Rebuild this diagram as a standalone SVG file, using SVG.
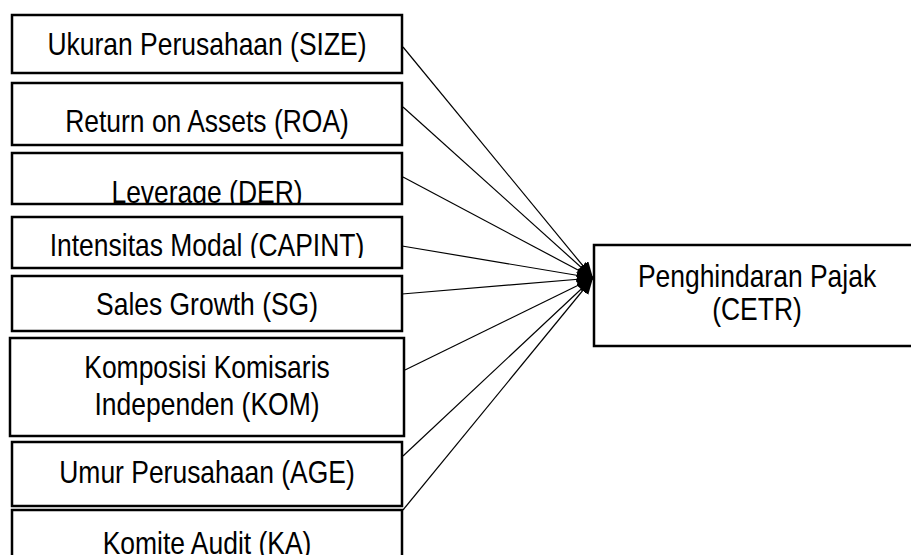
<svg xmlns="http://www.w3.org/2000/svg" width="911" height="555" viewBox="0 0 911 555">
<style>
.box{fill:#fff;stroke:#000;stroke-width:2.5}
.t{font-family:"Liberation Sans",Arial,sans-serif;font-size:31.5px;fill:#000;text-anchor:middle}
.ln{stroke:#000;stroke-width:1.2;fill:none}
</style>
<defs>
<marker id="ah" markerUnits="userSpaceOnUse" markerWidth="18" markerHeight="16" refX="16" refY="7" orient="auto">
<path d="M0,0 L16,7 L0,14 z" fill="#000"/>
</marker>
<clipPath id="c3"><rect x="0" y="150" width="420" height="53"/></clipPath>
<clipPath id="c4"><rect x="0" y="215" width="420" height="43"/></clipPath>
</defs>
<rect width="911" height="555" fill="#fff"/>
<g id="connectors">
<line class="ln" x1="403" y1="47" x2="593" y2="278" marker-end="url(#ah)"/>
<line class="ln" x1="403" y1="107" x2="593" y2="278" marker-end="url(#ah)"/>
<line class="ln" x1="403" y1="177" x2="593" y2="278" marker-end="url(#ah)"/>
<line class="ln" x1="402" y1="246" x2="593" y2="278" marker-end="url(#ah)"/>
<line class="ln" x1="402" y1="294" x2="593" y2="278" marker-end="url(#ah)"/>
<line class="ln" x1="405" y1="370" x2="593" y2="278" marker-end="url(#ah)"/>
<line class="ln" x1="403" y1="456" x2="593" y2="278" marker-end="url(#ah)"/>
<line class="ln" x1="403" y1="510" x2="593" y2="278" marker-end="url(#ah)"/>
</g>
<g id="size">
<rect class="box" x="12" y="15" width="390" height="58"/>
<text class="t" transform="translate(207,55) scale(0.84,1.02)">Ukuran Perusahaan (SIZE)</text>
</g>
<g id="roa">
<rect class="box" x="12" y="83" width="390" height="62"/>
<text class="t" transform="translate(207,132) scale(0.84,1.02)">Return on Assets (ROA)</text>
</g>
<g id="der">
<rect class="box" x="12" y="153" width="390" height="51"/>
<g clip-path="url(#c3)"><text class="t" transform="translate(207,203) scale(0.84,1.02)">Leverage (DER)</text></g>
</g>
<g id="capint">
<rect class="box" x="12" y="217" width="390" height="51"/>
<g clip-path="url(#c4)"><text class="t" transform="translate(207,256) scale(0.84,1.02)">Intensitas Modal (CAPINT)</text></g>
</g>
<g id="sg">
<rect class="box" x="12" y="276" width="390" height="55"/>
<text class="t" transform="translate(207,315) scale(0.84,1.02)">Sales Growth (SG)</text>
</g>
<g id="kom">
<rect class="box" x="10" y="338" width="394" height="98"/>
<text class="t" transform="translate(207,378) scale(0.84,1.02)">Komposisi Komisaris</text>
<text class="t" transform="translate(207,415) scale(0.84,1.02)">Independen (KOM)</text>
</g>
<g id="age">
<rect class="box" x="12" y="442" width="390" height="64"/>
<text class="t" transform="translate(207,483) scale(0.84,1.02)">Umur Perusahaan (AGE)</text>
</g>
<g id="ka">
<rect class="box" x="12" y="510" width="390" height="60"/>
<text class="t" transform="translate(207,554) scale(0.84,1.02)">Komite Audit (KA)</text>
</g>
<g id="cetr">
<rect class="box" x="594" y="245" width="330" height="101"/>
<text class="t" transform="translate(757,287) scale(0.84,1.02)">Penghindaran Pajak</text>
<text class="t" transform="translate(757,320) scale(0.84,1.02)">(CETR)</text>
</g>
</svg>
